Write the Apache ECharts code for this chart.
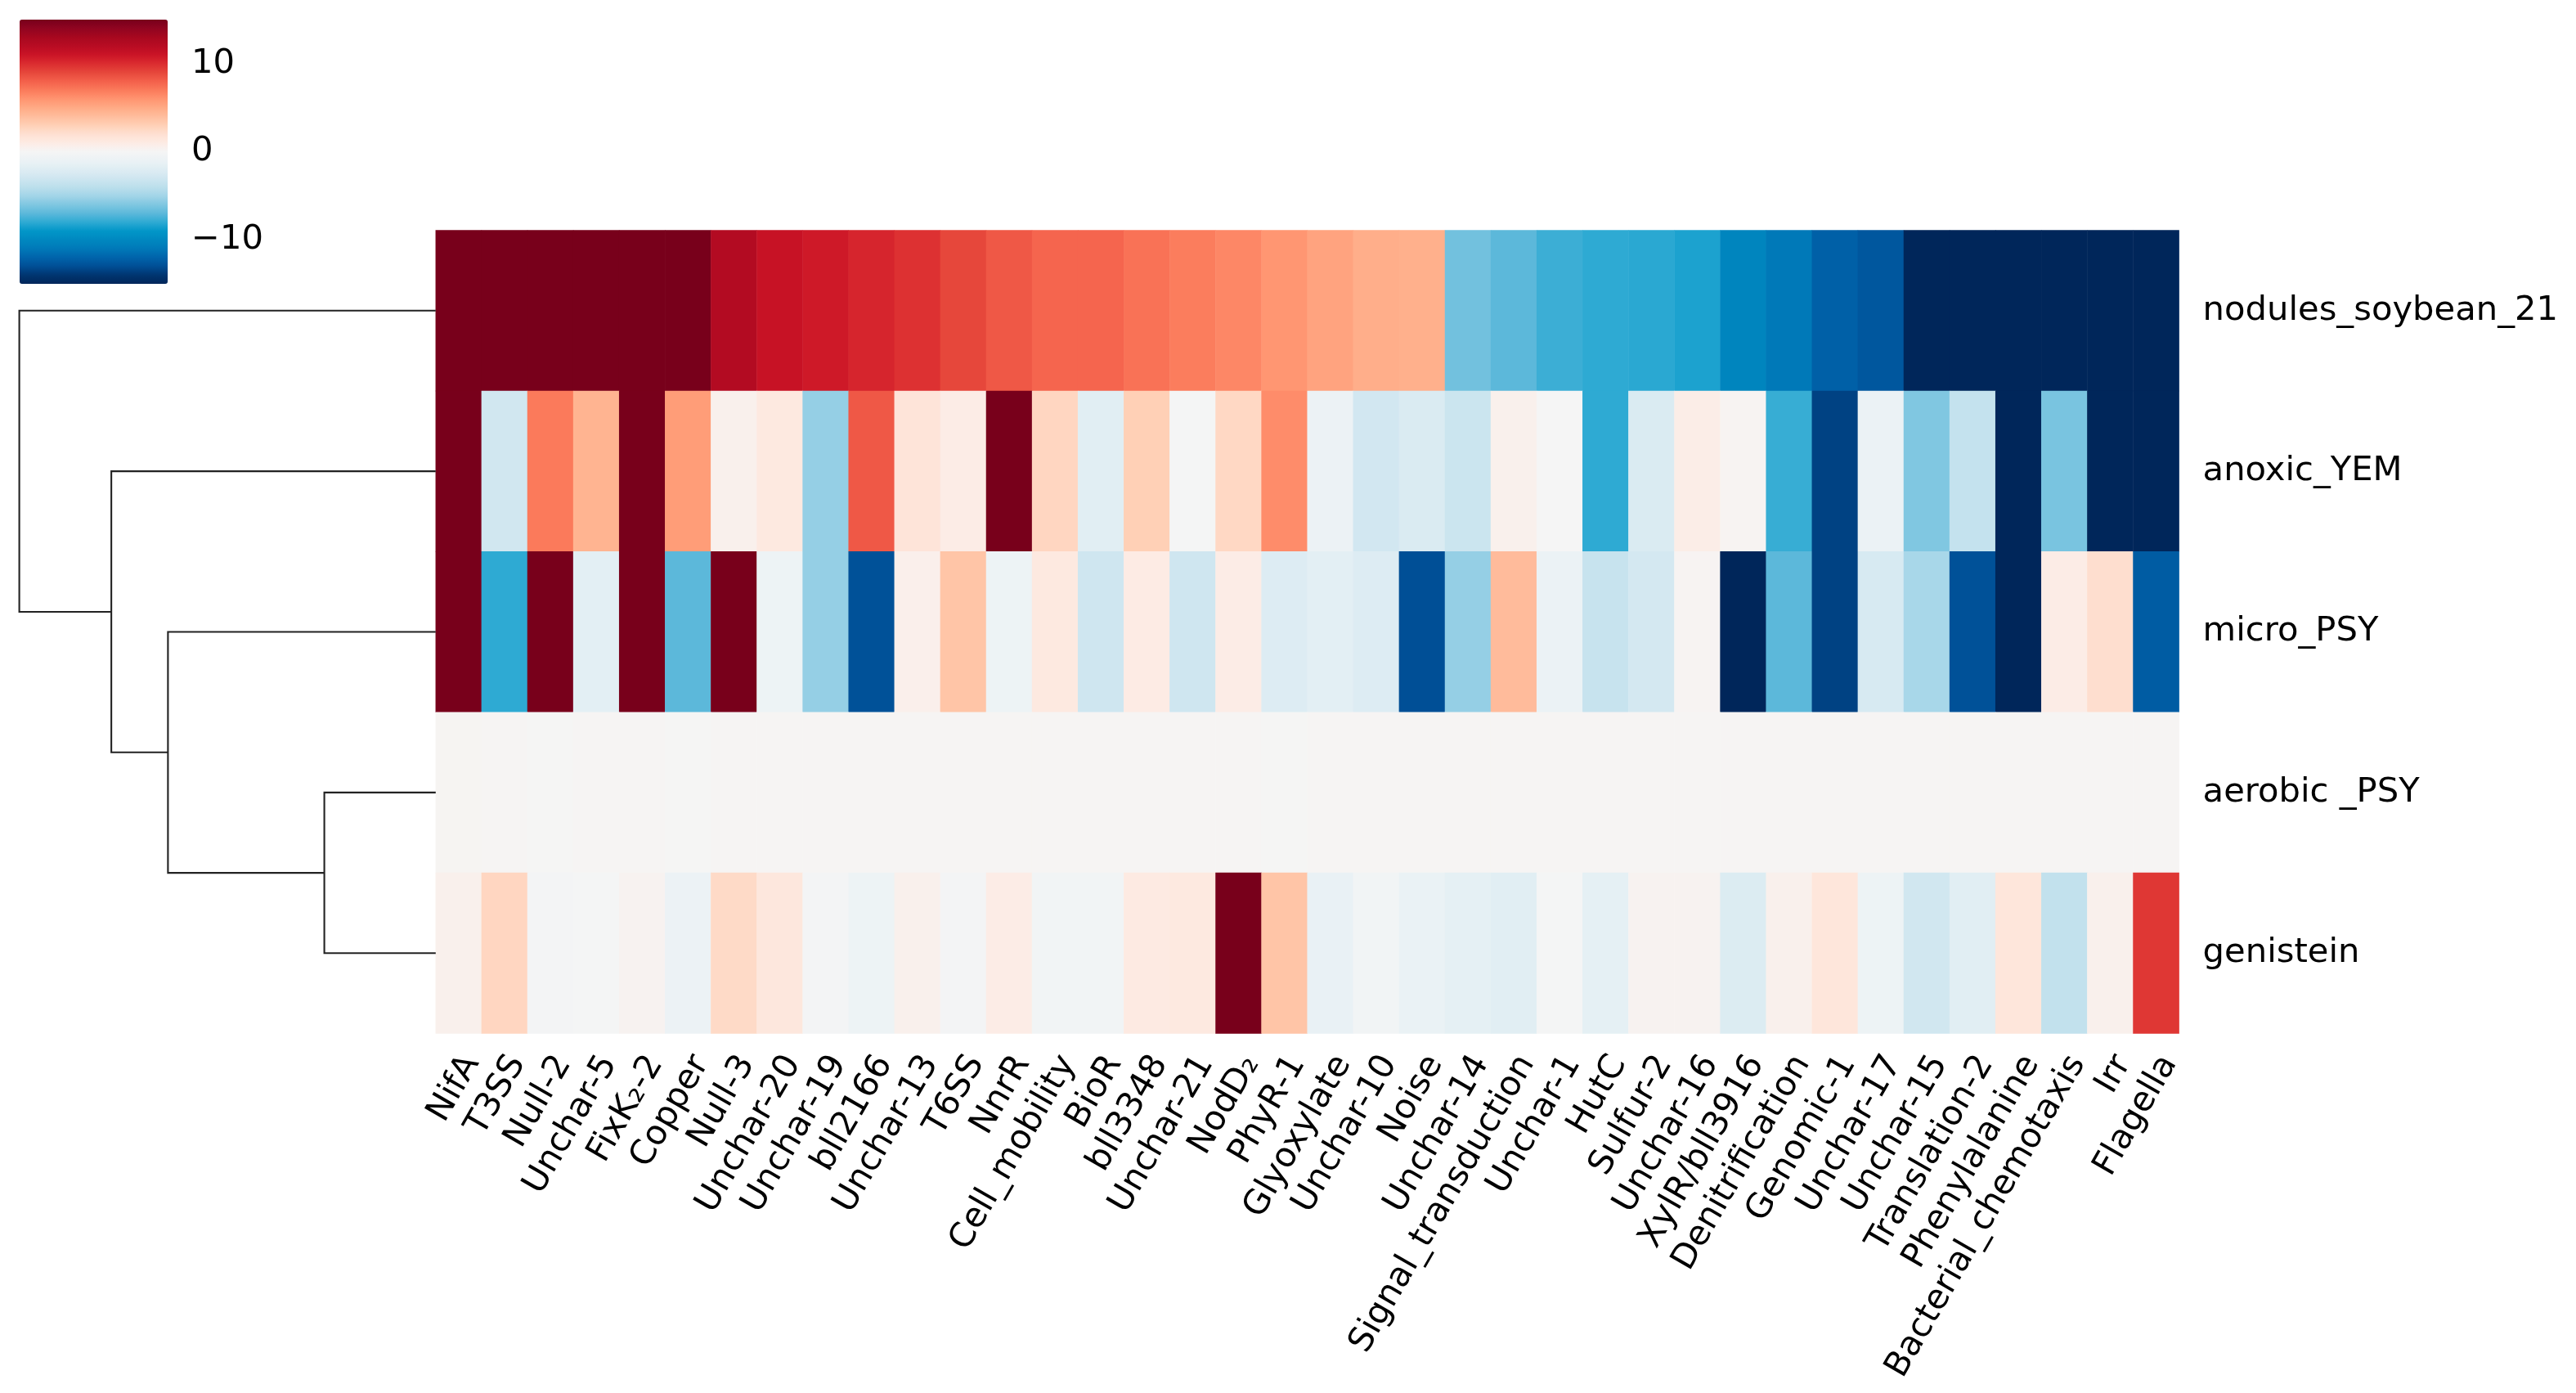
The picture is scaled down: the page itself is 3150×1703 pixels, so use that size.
<!DOCTYPE html>
<html>
<head>
<meta charset="utf-8">
<script src="https://cdn.jsdelivr.net/npm/echarts@6/dist/echarts.min.js"></script>
<style>html,body{margin:0;padding:0;background:#fff;}#c{width:3150px;height:1703px;}</style>
</head>
<body>
<div id="c"></div>
<script>
// ---------- data ----------
const rowLabels = ['nodules_soybean_21', 'anoxic_YEM', 'micro_PSY', 'aerobic _PSY', 'genistein'];
const colLabels = ['NifA', 'T3SS', 'Null-2', 'Unchar-5', 'FixK\u2082-2', 'Copper', 'Null-3', 'Unchar-20', 'Unchar-19', 'bll2166',
  'Unchar-13', 'T6SS', 'NnrR', 'Cell_mobility', 'BioR', 'bll3348', 'Unchar-21', 'NodD\u2082', 'PhyR-1', 'Glyoxylate',
  'Unchar-10', 'Noise', 'Unchar-14', 'Signal_transduction', 'Unchar-1', 'HutC', 'Sulfur-2', 'Unchar-16', 'XylR/bll3916', 'Denitrification',
  'Genomic-1', 'Unchar-17', 'Unchar-15', 'Translation-2', 'Phenylalanine', 'Bacterial_chemotaxis', 'Irr', 'Flagella'];

const nodulesSoybean21 = [18, 17, 16.5, 16, 15.8, 15.5, 12.3, 11.2, 10.8, 10.3,
  9.8, 9.0, 8.3, 7.8, 7.8, 7.3, 6.9, 6.5, 5.9, 5.3,
  4.8, 4.7, -6.4, -7.0, -7.7, -8.0, -8.1, -8.4, -10.2, -11.0,
  -12.2, -12.6, -16, -16, -16.5, -17, -17, -18];
const anoxicYEM = [16, -2.9, 7.0, 4.5, 16, 5.6, 0.5, 1.2, -5.4, 8.3,
  1.6, 0.9, 16, 2.6, -1.8, 3.0, -0.1, 2.5, 6.3, -0.9,
  -2.8, -2.3, -3.2, 0.5, 0.0, -8.0, -2.3, 0.8, 0.2, -7.8,
  -13.5, -1.0, -6.0, -3.6, -16, -6.2, -16, -16];
const microPSY = [16, -8.0, 16, -1.7, 16, -7.0, 16, -0.8, -5.4, -12.9,
  0.6, 3.6, -0.8, 1.2, -3.0, 1.0, -3.0, 0.9, -2.1, -1.7,
  -2.1, -13.0, -5.4, 4.1, -1.0, -3.4, -2.7, 0.2, -16, -7.0,
  -13.5, -2.5, -4.8, -12.9, -16, 0.9, 2.1, -12.4];
const aerobicPSY = [0.15, 0.1, 0.05, 0.1, 0.1, 0.05, 0.1, 0.1, 0.1, 0.1,
  0.1, 0.1, 0.1, 0.1, 0.1, 0.1, 0.1, 0.1, 0.05, 0.1,
  0.1, 0.1, 0.1, 0.1, 0.1, 0.1, 0.1, 0.1, 0.1, 0.1,
  0.1, 0.1, 0.1, 0.1, 0.1, 0.1, 0.1, 0.1];
const genistein = [0.5, 2.6, -0.2, -0.1, 0.3, -0.9, 2.4, 1.4, -0.2, -0.8,
  0.5, -0.2, 0.9, -0.4, -0.4, 1.1, 1.2, 16, 3.6, -1.2,
  -0.4, -1.1, -1.5, -1.8, -0.1, -1.5, 0.3, 0.3, -2.2, 0.5,
  1.5, -0.8, -2.9, -1.8, 1.5, -3.7, 0.5, 9.6];
const matrixRows = [nodulesSoybean21, anoxicYEM, microPSY, aerobicPSY, genistein];

// row linkage (scipy style: [childA, childB, height]; ids >= 5 are earlier merges)
const rowLinkage = [[3, 4, 26.75], [2, 5, 64.3], [1, 6, 77.9], [0, 7, 100]];

const colorbarTicks = [-10, 0, 10];
const cmap = ['#00265a', '#003570', '#004f96', '#0064ab', '#0079b8', '#0088c0', '#0296c8', '#2eaad3',
  '#5cb8da', '#80c7e1', '#a3d5e8', '#bcdfec', '#cfe6f0', '#dfedf3', '#ebf2f5', '#f5f5f5',
  '#fdebe4', '#fee0d2', '#ffd0b6', '#ffbd9d', '#ffaa85', '#ff9470', '#fb7a5b', '#f3604b',
  '#e6473b', '#db2c30', '#cb1426', '#b80c23', '#a8081f', '#900420', '#78001b'];

// ---------- build ----------
const heatData = [];
matrixRows.forEach((row, r) => row.forEach((v, c) => heatData.push([c, r, v])));

const nLeaf = rowLabels.length;
const pos = [], hgt = [];
for (let i = 0; i < nLeaf; i++) { pos.push(i + 0.5); hgt.push(0); }
const dendroLines = [];
rowLinkage.forEach(([a, b, h]) => {
  dendroLines.push({ coords: [[hgt[a], pos[a]], [h, pos[a]], [h, pos[b]], [hgt[b], pos[b]]] });
  pos.push((pos[a] + pos[b]) / 2); hgt.push(h);
});

const FONT = 'DejaVu Sans';
const FS = 41.7;
const L = 532.8, T = 281.5, W = 2131.8, H = 982;

const chart = echarts.init(document.getElementById('c'));
chart.setOption({
  animation: false,
  backgroundColor: '#fff',
  grid: [
    { left: L, top: T, width: W, height: H },
    { left: 23.6, top: T, width: L - 23.6, height: H },
    { left: 24, top: 24, width: 181, height: 323 }
  ],
  xAxis: [
    { type: 'category', gridIndex: 0, data: colLabels, position: 'bottom',
      axisLine: { show: false },
      axisTick: { alignWithLabel: true, length: 14.6, lineStyle: { color: '#000', width: 3.3 } },
      axisLabel: { interval: 0, rotate: 60, margin: 21, verticalAlign: 'top', lineHeight: 37,
        fontSize: FS, fontFamily: FONT, color: '#000' },
      splitLine: { show: false } },
    { type: 'value', gridIndex: 1, min: 0, max: 100, inverse: true, show: false },
    { type: 'value', gridIndex: 2, min: 0, max: 1, show: false }
  ],
  yAxis: [
    { type: 'category', gridIndex: 0, data: rowLabels, inverse: true, position: 'right',
      axisLine: { show: false },
      axisTick: { alignWithLabel: true, length: 14.6, lineStyle: { color: '#000', width: 3.3 } },
      axisLabel: { margin: 29, padding: [12, 0, 0, 0], fontSize: FS, fontFamily: FONT, color: '#000' },
      splitLine: { show: false } },
    { type: 'value', gridIndex: 1, min: 0, max: nLeaf, inverse: true, show: false },
    { type: 'value', gridIndex: 2, min: -15, max: 15, position: 'right',
      axisLine: { show: false }, splitLine: { show: false },
      axisTick: { show: true, customValues: colorbarTicks, length: 14.6, lineStyle: { color: '#000', width: 3.3 } },
      axisLabel: { customValues: colorbarTicks, margin: 29, padding: [8, 0, 0, 0], fontSize: FS, fontFamily: FONT, color: '#000',
        formatter: v => (v < 0 ? '\u2212' + Math.abs(v) : String(v)) } }
  ],
  visualMap: {
    type: 'continuous', seriesIndex: 0, min: -15, max: 15, calculable: false,
    orient: 'vertical', left: 24, top: 24, itemWidth: 181, itemHeight: 323, padding: 0,
    inRange: { color: cmap }, hoverLink: false
  },
  series: [
    { type: 'heatmap', xAxisIndex: 0, yAxisIndex: 0, data: heatData,
      itemStyle: { borderWidth: 0 }, emphasis: { disabled: true }, progressive: 0 },
    { type: 'lines', coordinateSystem: 'cartesian2d', xAxisIndex: 1, yAxisIndex: 1, polyline: true,
      data: dendroLines, silent: true,
      lineStyle: { color: '#222', width: 2.1, opacity: 1 } }
  ]
});
</script>
</body>
</html>
